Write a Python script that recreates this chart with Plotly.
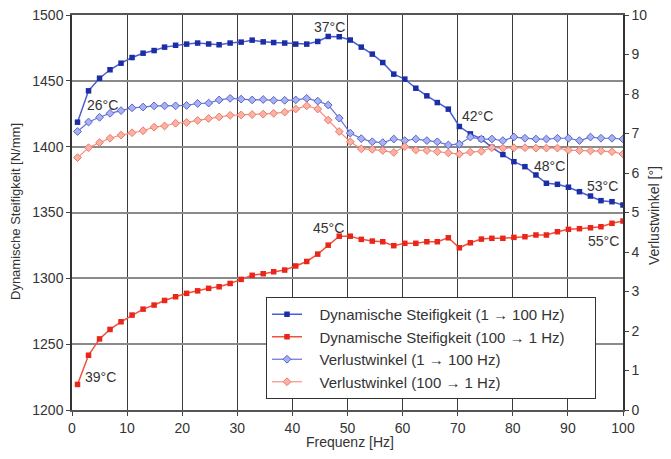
import plotly.graph_objects as go

freq = [1, 3, 5, 6.9, 8.9, 10.9, 12.9, 14.9, 16.8, 18.8, 20.8, 22.8, 24.8, 26.7, 28.7, 30.7, 32.7,
        34.7, 36.6, 38.6, 40.6, 42.6, 44.6, 46.5, 48.5, 50.5, 52.5, 54.5, 56.4, 58.4, 60.4, 62.4,
        64.4, 66.3, 68.3, 70.3, 72.3, 74.3, 76.2, 78.2, 80.2, 82.2, 84.2, 86.1, 88.1, 90.1, 92.1,
        94.1, 96, 98, 100]

steif_up = [1418.6, 1442.4, 1452, 1458.4, 1463.4, 1467.7, 1471, 1473, 1475.6, 1477, 1477.9, 1478.7,
            1478, 1477.4, 1478.7, 1479.4, 1480.9, 1479.6, 1479.1, 1478.7, 1477.9, 1477.9, 1479.9,
            1483.7, 1483.5, 1481, 1475.6, 1470.3, 1463.9, 1455.1, 1451.3, 1444.4, 1438.6, 1433.5,
            1428.5, 1415.3, 1409.7, 1405.9, 1399.5, 1394, 1388.6, 1384.8, 1378.5, 1372.2, 1371.4,
            1369.2, 1365.8, 1362.5, 1359, 1358.2, 1355.7]

steif_down = [1219.4, 1241.6, 1254, 1261.2, 1267, 1272.1, 1276.6, 1279.7, 1283.2, 1286, 1288.6,
              1290.5, 1292.4, 1293.6, 1296.1, 1299.2, 1302.3, 1303.5, 1305, 1306.3, 1309.4, 1312.8,
              1318.4, 1325.2, 1332, 1332, 1329.6, 1328.3, 1327.8, 1324.8, 1326.6, 1326.6, 1327.8,
              1327.8, 1330.8, 1323.2, 1327, 1329.8, 1330.4, 1330.4, 1331.1, 1331.6, 1332.9, 1332.9,
              1335.4, 1337.2, 1337.7, 1338.4, 1339.2, 1341.8, 1343.5]

verl_up = [7.05, 7.29, 7.41, 7.51, 7.58, 7.65, 7.67, 7.70, 7.70, 7.70, 7.71, 7.76, 7.77, 7.85, 7.89,
           7.87, 7.85, 7.86, 7.84, 7.84, 7.85, 7.89, 7.82, 7.72, 7.39, 7.01, 6.87, 6.79, 6.77, 6.86,
           6.82, 6.86, 6.82, 6.79, 6.71, 6.73, 6.91, 6.86, 6.86, 6.82, 6.91, 6.88, 6.86, 6.86, 6.88,
           6.88, 6.82, 6.91, 6.88, 6.88, 6.86]

verl_down = [6.39, 6.64, 6.77, 6.88, 6.96, 7.02, 7.07, 7.16, 7.19, 7.26, 7.28, 7.33, 7.38, 7.42, 7.46,
             7.47, 7.48, 7.49, 7.51, 7.54, 7.62, 7.70, 7.62, 7.34, 7.05, 6.79, 6.61, 6.60, 6.57, 6.52,
             6.67, 6.58, 6.57, 6.54, 6.51, 6.48, 6.53, 6.55, 6.64, 6.63, 6.64, 6.64, 6.63, 6.63, 6.63,
             6.58, 6.57, 6.56, 6.56, 6.54, 6.48]

names = ["Dynamische Steifigkeit (1 \u2192 100 Hz)",
         "Dynamische Steifigkeit (100 \u2192 1 Hz)",
         "Verlustwinkel (1 \u2192 100 Hz)",
         "Verlustwinkel (100 \u2192 1 Hz)"]

temp_labels = ["26°C", "37°C", "42°C", "48°C", "53°C", "55°C", "45°C", "39°C"]
temp_x = [5.5, 46.8, 73.6, 86.7, 96.3, 96.5, 46.6, 5.1]
temp_y = [1431.9, 1491.1, 1423.4, 1385.4, 1370.2, 1328.3, 1338.2, 1224.9]

FONT = "Liberation Sans, Arial, sans-serif"
TXT = "#333333"
PAD_L = "\u00a0\u00a0\u00a0"
PAD_R = "\u00a0" * 6

# page offset (body margin 8px): plot area in page px is x 72..623, y 15..410
OFF = 8
PL, PR, PT, PB = 72, 623, 15, 410
PW, PH = PR - PL, PB - PT


def px_x(p):
    return (p - PL) / PW


def px_y(p):
    return (PB - p) / PH


fig = go.Figure()
fig.add_trace(go.Scatter(x=freq, y=steif_up, name=PAD_L + names[0] + PAD_R, mode="lines+markers",
                         line=dict(color="#4a5ccf", width=1.5),
                         marker=dict(symbol="square", size=5.5, color="#1c2ea6")))
fig.add_trace(go.Scatter(x=freq, y=steif_down, name=PAD_L + names[1] + PAD_R, mode="lines+markers",
                         line=dict(color="#f2503c", width=1.5),
                         marker=dict(symbol="square", size=5.5, color="#e8261a")))
fig.add_trace(go.Scatter(x=freq, y=verl_up, name=PAD_L + names[2], mode="lines+markers", yaxis="y2",
                         line=dict(color="#6474d8", width=1.2),
                         marker=dict(symbol="diamond", size=6, color="#a9b2ee",
                                     line=dict(color="#5565d2", width=1))))
fig.add_trace(go.Scatter(x=freq, y=verl_down, name=PAD_L + names[3], mode="lines+markers", yaxis="y2",
                         line=dict(color="#f5907e", width=1.2),
                         marker=dict(symbol="diamond", size=6, color="#f8b2a6",
                                     line=dict(color="#f07a66", width=1))))

for t, tx, ty in zip(temp_labels, temp_x, temp_y):
    fig.add_annotation(x=tx, y=ty, xref="x", yref="y", text=t, showarrow=False,
                       xanchor="center", yanchor="middle",
                       font=dict(family=FONT, size=14, color=TXT))

# axis titles
fig.add_annotation(x=px_x(350), y=px_y(442), xref="paper", yref="paper",
                   xanchor="center", yanchor="middle",
                   text="Frequenz [Hz]", showarrow=False, font=dict(size=14, color=TXT))
fig.add_annotation(x=px_x(15), y=px_y(212), xref="paper", yref="paper",
                   xanchor="center", yanchor="middle",
                   text="Dynamische Steifigkeit [N/mm]", showarrow=False, textangle=-90,
                   font=dict(size=13, color=TXT))
fig.add_annotation(x=px_x(654), y=px_y(216), xref="paper", yref="paper",
                   xanchor="center", yanchor="middle",
                   text="Verlustwinkel [°]", showarrow=False, textangle=-90,
                   font=dict(size=14, color=TXT))

W, H = 671 - OFF, 459 - OFF
fig.update_layout(
    width=W, height=H,
    margin=dict(l=PL - OFF, r=W - (PR - OFF), t=PT - OFF, b=H - (PB - OFF), autoexpand=False),
    paper_bgcolor="white", plot_bgcolor="white",
    font=dict(family=FONT, size=14, color=TXT),
    xaxis=dict(range=[0, 100], dtick=10, tick0=0, showgrid=True, gridcolor="#3c3c3c", gridwidth=1.3,
               showline=True, linecolor="#555555", linewidth=1.5, mirror=True,
               ticks="outside", ticklen=4, tickcolor="#444", zeroline=False, automargin=False,
               ticklabeloverflow="allow", tickfont=dict(size=14)),
    yaxis=dict(range=[1200, 1500], dtick=50, showgrid=True, gridcolor="#8a8a8a", gridwidth=2,
               showline=True, linecolor="#333333", linewidth=1.5, zeroline=False, automargin=False,
               ticks="outside", ticklen=4, tickcolor="#444",
               ticklabeloverflow="allow", tickfont=dict(size=14)),
    yaxis2=dict(range=[0, 10], dtick=1, overlaying="y", side="right", showgrid=False,
                showline=True, linecolor="#333333", linewidth=1.5, zeroline=False, automargin=False,
                ticks="outside", ticklen=4, tickcolor="#444",
                ticklabeloverflow="allow", tickfont=dict(size=14)),
    legend=dict(x=px_x(266), y=px_y(297), xanchor="left", yanchor="top",
                bgcolor="white", bordercolor="#333333", borderwidth=1,
                font=dict(size=15, color=TXT), tracegroupgap=0),
    showlegend=True,
)

fig.write_html("out.html")
